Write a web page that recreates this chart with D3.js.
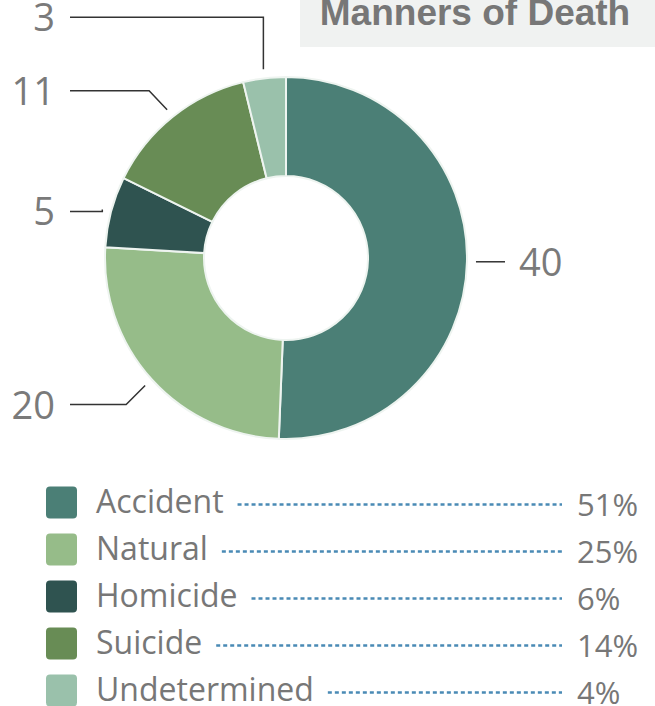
<!DOCTYPE html>
<html>
<head>
<meta charset="utf-8">
<script src="https://cdn.jsdelivr.net/npm/d3@7"></script>
<style>
  body { margin: 0; background: #fff; }
  svg { display: block; }
</style>
</head>
<body>
<div id="chart"></div>
<script>
var categories = ['Accident', 'Natural', 'Homicide', 'Suicide', 'Undetermined'];
var counts = [40, 20, 5, 11, 3];
var colors = ['#4b7f76', '#96bc89', '#2f5350', '#688c55', '#9ac1ab'];
var title = 'Manners of Death';

var width = 655, height = 706;
var cx = 286, cy = 258;
var outerR = 181, innerR = 82;

var total = d3.sum(counts);
var rows = categories.map(function (c, i) {
  return { name: c, value: counts[i], color: colors[i] };
});

var svg = d3.select('#chart')
  .append('svg')
    .attr('width', width)
    .attr('height', height);

// title box, top right (text is cut by the top edge, as in the original)
svg.append('rect')
    .attr('x', 300)
    .attr('y', 0)
    .attr('width', 355)
    .attr('height', 47)
    .attr('fill', '#f0f2f1');
svg.append('text')
    .text(title)
    .attr('x', 475)
    .attr('y', 25)
    .attr('text-anchor', 'middle')
    .style('font-family', 'Liberation Sans, Arial, sans-serif')
    .style('font-weight', 'bold')
    .style('font-size', '37px')
    .style('fill', '#777');

var pie = d3.pie().sort(null).value(function (d) { return d.value; });
var arc = d3.arc().innerRadius(innerR).outerRadius(outerR);
var arcs = pie(rows);

var g = svg.append('g').attr('transform', 'translate(' + cx + ',' + cy + ')');

g.selectAll('path.slice')
  .data(arcs)
  .enter().append('path')
    .attr('class', 'slice')
    .attr('d', arc)
    .attr('fill', function (d) { return d.data.color; })
    .attr('stroke', '#eef4f0')
    .attr('stroke-width', 2);

// leader lines: start just outside the ring, optional elbow, then flat run to the label
var leadR = 190;
var bend = {
  Accident: { dx: 0, dy: 0 },
  Natural: { dx: -19, dy: 19 },
  Homicide: { dx: 0, dy: 2 },
  Suicide: { dx: -18, dy: -19 },
  Undetermined: { dx: 0, dy: -52 }
};
var leftEnd = 70, rightEnd = 505;

arcs.forEach(function (d) {
  var a = (d.startAngle + d.endAngle) / 2;
  var x0 = cx + leadR * Math.sin(a);
  var y0 = cy - leadR * Math.cos(a);
  var b = bend[d.data.name];
  var x1 = x0 + b.dx, y1 = y0 + b.dy;
  var right = Math.sin(a) > 0;
  var x2 = right ? rightEnd : leftEnd;

  svg.append('path')
      .attr('d', d3.line()([[x0, y0], [x1, y1], [x2, y1]]))
      .attr('fill', 'none')
      .attr('stroke', '#333')
      .attr('stroke-width', 1.5);

  svg.append('text')
      .text(d.data.value)
      .attr('x', right ? x2 + 14 : x2 - 15)
      .attr('y', y1 + 14)
      .attr('text-anchor', right ? 'start' : 'end')
      .style('font-family', 'Open Sans, sans-serif')
      .style('font-size', '38px')
      .style('fill', '#7a7a7a');
});

// legend
var legendY = d3.scaleBand()
  .domain(categories)
  .range([479, 714])
  .paddingInner(0);

var pct = function (v) { return Math.round(v / total * 100) + '%'; };

var leg = svg.selectAll('g.legend')
  .data(rows)
  .enter().append('g')
    .attr('class', 'legend')
    .attr('transform', function (d) {
      return 'translate(0,' + (legendY(d.name) + legendY.bandwidth() / 2) + ')';
    });

leg.append('rect')
    .attr('x', 46)
    .attr('y', -16)
    .attr('width', 31)
    .attr('height', 32)
    .attr('rx', 4)
    .attr('fill', function (d) { return d.color; });

leg.append('text')
    .attr('class', 'lname')
    .text(function (d) { return d.name; })
    .attr('x', 96)
    .attr('y', 10)
    .style('font-family', 'Open Sans, sans-serif')
    .style('font-size', '32px')
    .style('fill', '#777');

leg.append('text')
    .text(function (d) { return pct(d.value); })
    .attr('x', 577)
    .attr('y', 13)
    .style('font-family', 'Open Sans, sans-serif')
    .style('font-size', '31px')
    .style('fill', '#777');

leg.each(function () {
  var row = d3.select(this);
  var tw = row.select('text.lname').node().getComputedTextLength();
  row.append('line')
      .attr('x1', 96 + tw + 14)
      .attr('x2', 562)
      .attr('y1', 2)
      .attr('y2', 2)
      .attr('stroke', '#4a8ab5')
      .attr('stroke-width', 2.5)
      .attr('stroke-dasharray', '4,3');
});
</script>
</body>
</html>
